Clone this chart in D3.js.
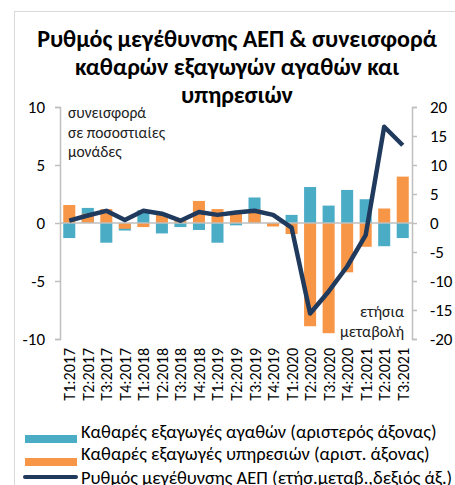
<!DOCTYPE html>
<html lang="el">

<head>
    <meta charset="UTF-8">
    <title>ΑΕΠ & καθαρές εξαγωγές</title>
    <script src="https://d3js.org/d3.v7.min.js"></script>
    <style>
        body {
            margin: 0;
            background: #fff;
        }

        svg {
            font-family: Carlito, "Liberation Sans", sans-serif;
        }
    </style>
</head>

<body>
    <svg id="chart" width="455" height="485"></svg>

    <script>
        // quarters
        const quarters = ["T1:2017", "T2:2017", "T3:2017", "T4:2017", "T1:2018", "T2:2018", "T3:2018", "T4:2018",
            "T1:2019", "T2:2019", "T3:2019", "T4:2019", "T1:2020", "T2:2020", "T3:2020", "T4:2020",
            "T1:2021", "T2:2021", "T3:2021"];

        // contribution of net exports of goods (pp, left axis)
        const goods = [-1.3, 1.3, -1.7, -0.65, 1.1, -0.9, -0.35, -0.6,
            -1.7, -0.2, 2.2, -0.15, 0.7, 3.1, 1.5, 2.85,
            2.05, -2.0, -1.3];

        // contribution of net exports of services (pp, left axis)
        const services = [1.55, 0.8, 1.2, -0.5, -0.35, 0.8, 0.2, 1.9,
            1.2, 0.8, 1.2, -0.3, -0.95, -8.9, -9.5, -4.25,
            -2.05, 1.25, 4.0];

        // GDP growth, y-o-y % (right axis)
        const gdp = [0.4, 1.3, 2.1, 0.5, 2.1, 1.6, 0.4, 1.9,
            1.4, 1.8, 2.1, 1.4, -0.8, -15.6, -11.8, -7.5,
            -2.1, 16.6, 13.4];

        const leftTicks = [10, 5, 0, -5, -10];
        const rightTicks = [20, 15, 10, 5, 0, -5, -10, -15, -20];

        const titleLines = ["Ρυθμός μεγέθυνσης ΑΕΠ & συνεισφορά", "καθαρών εξαγωγών αγαθών και", "υπηρεσιών"];
        const legendLabels = ["Καθαρές εξαγωγές αγαθών (αριστερός άξονας)",
            "Καθαρές εξαγωγές υπηρεσιών (αριστ. άξονας)",
            "Ρυθμός μεγέθυνσης ΑΕΠ (ετήσ.μεταβ.,δεξιός άξ.)"];

        const blue = "#4bacc6", orange = "#f79646", navy = "#1f3a5c", grey = "#bfbfbf";

        const svg = d3.select("#chart");

        // outer frame
        svg.append("rect")
            .attr("x", 14.5).attr("y", 11.5)
            .attr("width", 470).attr("height", 490)
            .attr("fill", "none")
            .attr("stroke", "#d9d9d9");

        // title
        svg.append("g")
            .selectAll("text")
            .data(titleLines)
            .join("text")
            .attr("x", 237)
            .attr("y", (d, i) => 47 + i * 28)
            .attr("text-anchor", "middle")
            .style("font-weight", "bold")
            .style("font-size", "24px")
            .text(d => d);

        const x = d3.scaleBand()
            .domain(quarters)
            .range([60, 412])
            .paddingInner(0.35)
            .paddingOuter(0.175);

        const yL = d3.scaleLinear().domain([-10, 10]).range([339, 107]);
        const yR = d3.scaleLinear().domain([-20, 20]).range([339, 107]);

        // bars: goods behind, services in front
        svg.append("g")
            .selectAll("rect")
            .data(goods)
            .join("rect")
            .attr("x", (d, i) => x(quarters[i]))
            .attr("width", x.bandwidth())
            .attr("y", d => yL(Math.max(0, d)))
            .attr("height", d => Math.abs(yL(d) - yL(0)))
            .attr("fill", blue);

        svg.append("g")
            .selectAll("rect")
            .data(services)
            .join("rect")
            .attr("x", (d, i) => x(quarters[i]))
            .attr("width", x.bandwidth())
            .attr("y", d => yL(Math.max(0, d)))
            .attr("height", d => Math.abs(yL(d) - yL(0)))
            .attr("fill", orange);

        // zero line
        svg.append("line")
            .attr("x1", 60).attr("x2", 412)
            .attr("y1", yL(0)).attr("y2", yL(0))
            .attr("stroke", grey)
            .attr("stroke-width", 1.5);

        // left axis
        const axL = svg.append("g")
            .attr("transform", "translate(60,0)")
            .call(d3.axisLeft(yL).tickValues(leftTicks).tickSize(5).tickPadding(10).tickFormat(d3.format("d")));

        // right axis
        const axR = svg.append("g")
            .attr("transform", "translate(412,0)")
            .call(d3.axisRight(yR).tickValues(rightTicks).tickSize(5).tickPadding(13).tickFormat(d3.format("d")));

        [axL, axR].forEach(ax => {
            ax.select(".domain").attr("stroke", grey).attr("stroke-width", 1.5);
            ax.selectAll(".tick line").attr("stroke", grey).attr("stroke-width", 1.5);
            ax.selectAll(".tick text")
                .style("font-size", "17px")
                .style("font-family", "Carlito, 'Liberation Sans', sans-serif")
                .attr("fill", "#000")
                .text(d => d < 0 ? "-" + Math.abs(d) : d);
        });

        // x labels, rotated
        svg.append("g")
            .selectAll("text")
            .data(quarters)
            .join("text")
            .attr("transform", d => `translate(${x(d) + x.bandwidth() / 2 + 6},348) rotate(-90)`)
            .attr("text-anchor", "end")
            .style("font-size", "16px")
            .text(d => d);

        // GDP line
        const line = d3.line()
            .x((d, i) => x(quarters[i]) + x.bandwidth() / 2)
            .y(d => yR(d));

        svg.append("path")
            .datum(gdp)
            .attr("d", line)
            .attr("fill", "none")
            .attr("stroke", navy)
            .attr("stroke-width", 4.5)
            .attr("stroke-linejoin", "round");

        // annotations
        svg.append("g")
            .selectAll("text")
            .data(["συνεισφορά", "σε ποσοστιαίες", "μονάδες"])
            .join("text")
            .attr("x", 68)
            .attr("y", (d, i) => 118 + i * 19.5)
            .style("font-size", "15.5px")
            .attr("fill", "#222")
            .text(d => d);

        svg.append("g")
            .selectAll("text")
            .data(["ετήσια", "μεταβολή"])
            .join("text")
            .attr("x", 404)
            .attr("y", (d, i) => 317 + i * 20)
            .attr("text-anchor", "end")
            .style("font-size", "16px")
            .attr("fill", "#222")
            .text(d => d);

        // legend
        const legend = svg.append("g");
        const legendColors = [blue, orange, navy];
        const legendY = [438, 460, 484];
        legendLabels.forEach((lab, i) => {
            const yy = legendY[i];
            if (i < 2) {
                legend.append("rect")
                    .attr("x", 25).attr("y", yy - 3 + i)
                    .attr("width", 52).attr("height", 8)
                    .attr("fill", legendColors[i]);
            } else {
                legend.append("line")
                    .attr("x1", 25).attr("x2", 76)
                    .attr("y1", yy - 7).attr("y2", yy - 7)
                    .attr("stroke", navy)
                    .attr("stroke-width", 4)
                    .attr("stroke-linecap", "round");
            }
            legend.append("text")
                .attr("x", 81)
                .attr("y", yy)
                .style("font-size", "18.5px")
                .text(lab);
        });
    </script>
</body>

</html>
